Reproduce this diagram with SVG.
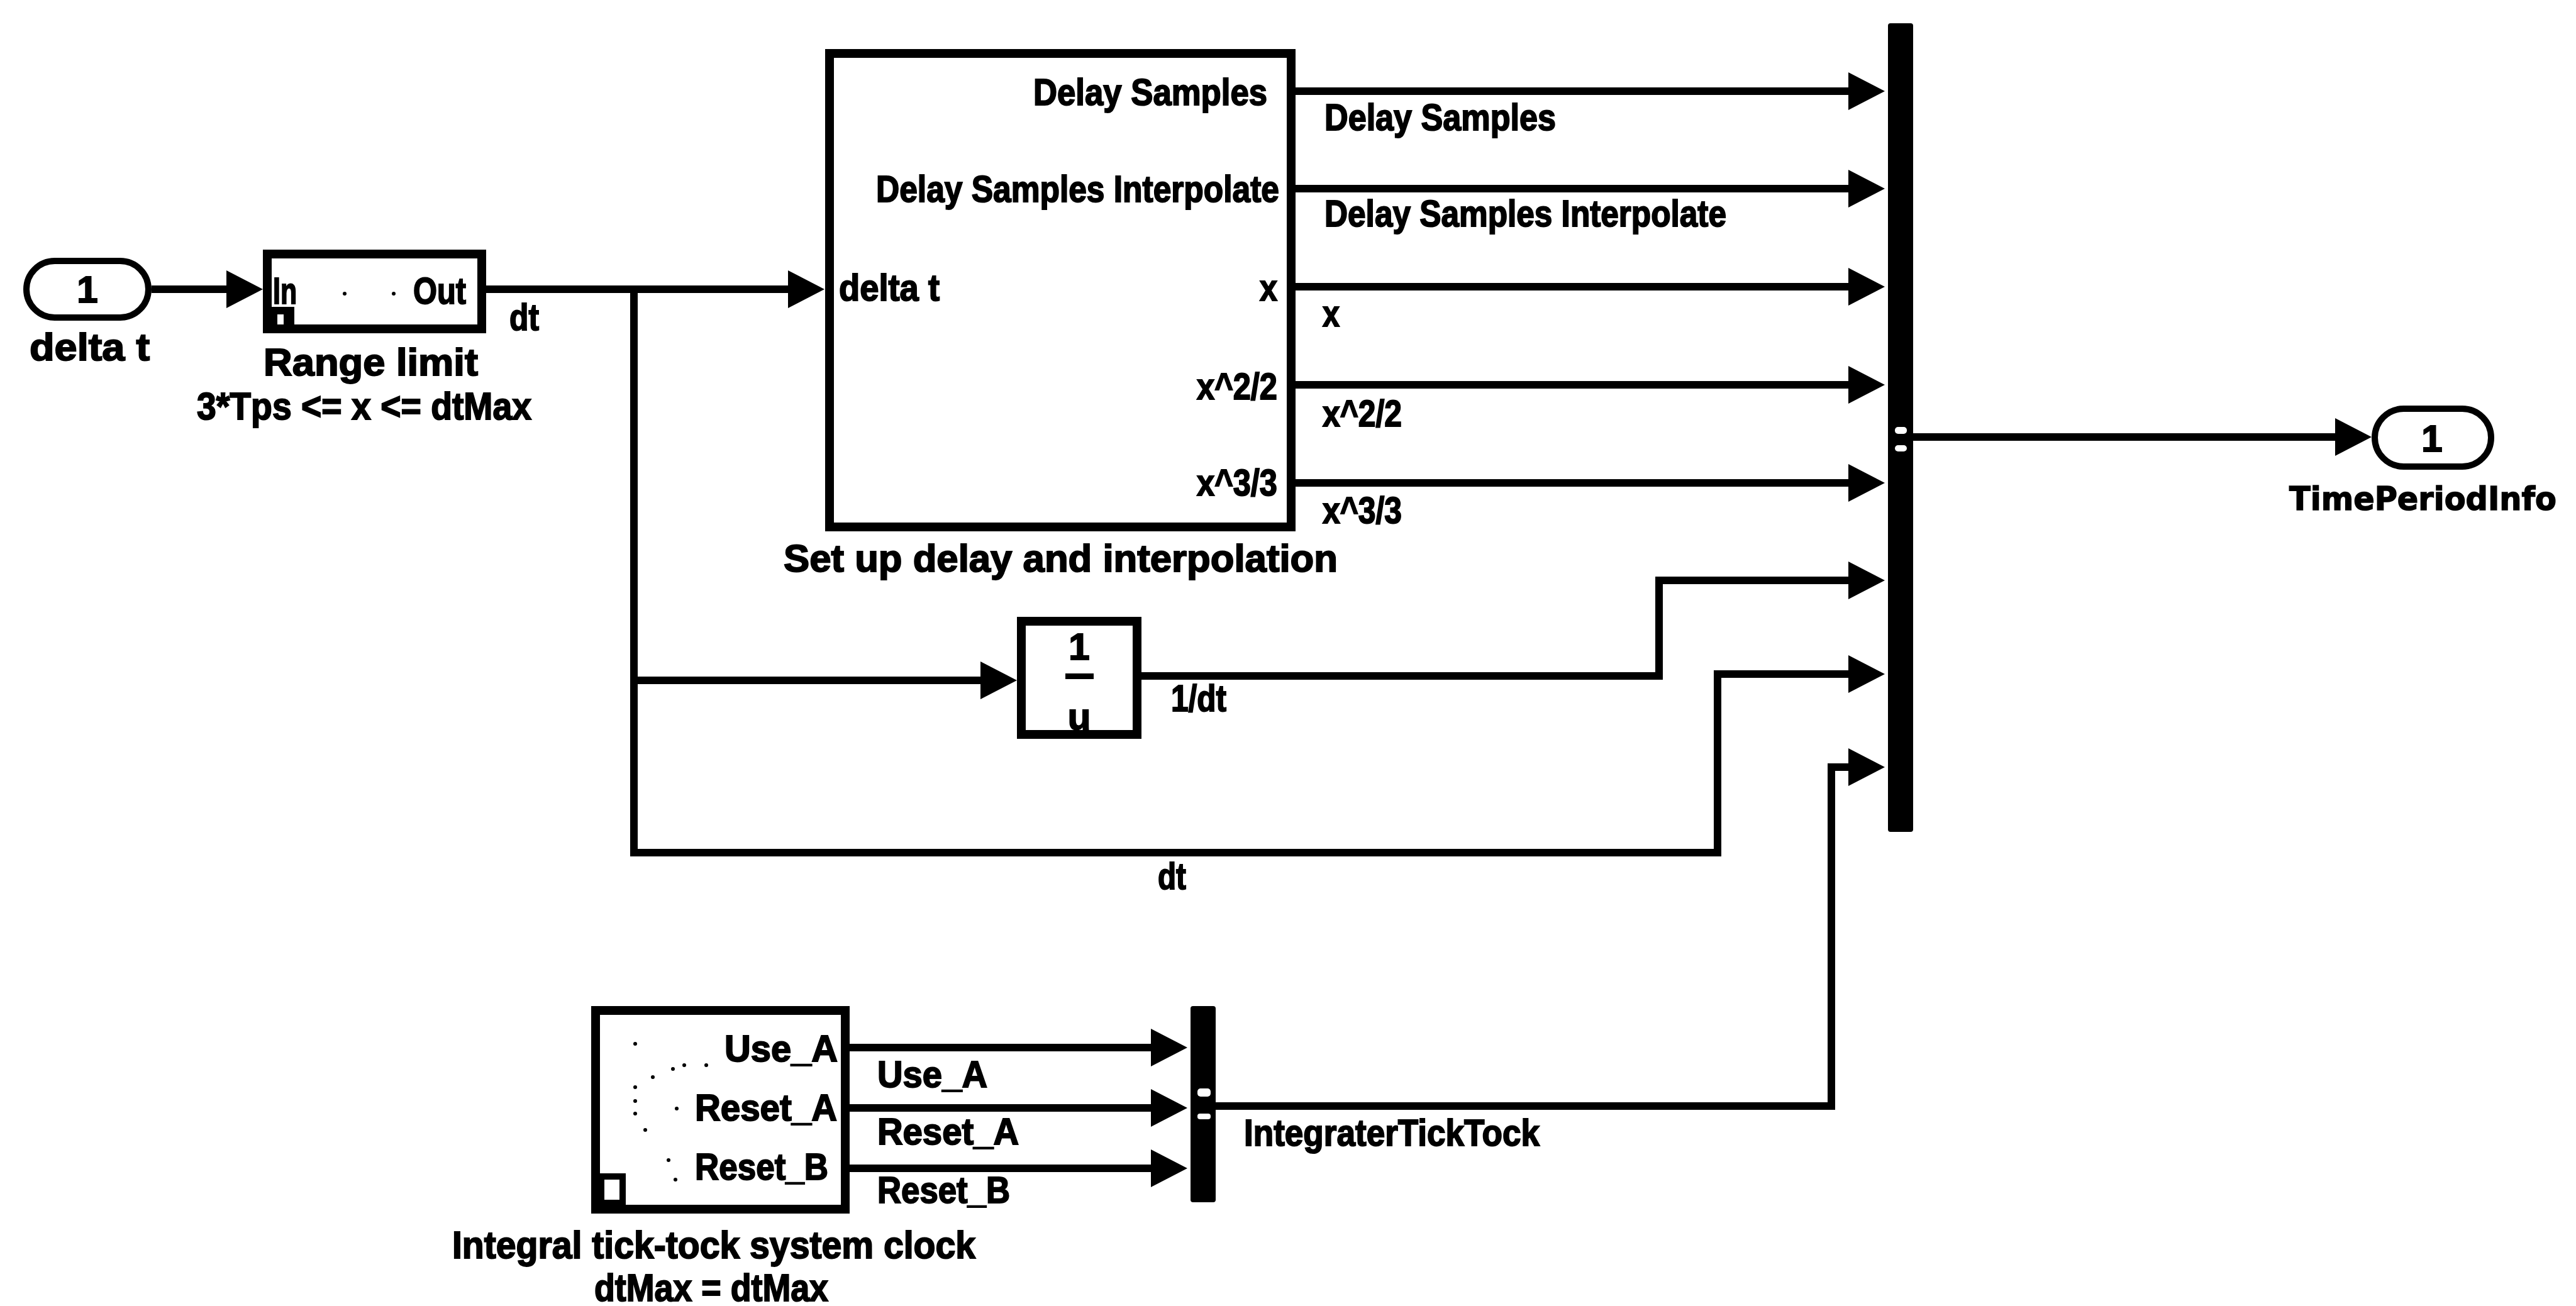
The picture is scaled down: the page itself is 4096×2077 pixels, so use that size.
<svg xmlns="http://www.w3.org/2000/svg" width="4096" height="2077" viewBox="0 0 4096 2077">
<defs>
<style>
.ln{fill:none;stroke:#000;stroke-width:12;stroke-linejoin:miter}
.blk{fill:#fff;stroke:#000;stroke-width:14}
.port{fill:#fff;stroke:#000;stroke-width:10}
.t{font-family:"Liberation Sans",Arial,sans-serif;font-weight:bold;font-size:60px;fill:#000;stroke:#000;stroke-width:2}
.lb{font-family:"Liberation Sans",Arial,sans-serif;font-weight:bold;font-size:62px;fill:#000;stroke:#000;stroke-width:2}
.r{text-anchor:end}
.m{text-anchor:middle}
.dot{fill:#000}
</style>
<marker id="ah" markerUnits="userSpaceOnUse" markerWidth="60" markerHeight="62" refX="0" refY="31" orient="auto" overflow="visible">
<path d="M0,1 L58,31 L0,61 Z" fill="#000"/>
</marker>
</defs>
<rect width="4096" height="2077" fill="#fff"/>

<g id="connectors">
<path class="ln" d="M241,460 H360" marker-end="url(#ah)"/>
<path class="ln" d="M773,460 H1253" marker-end="url(#ah)"/>
<path class="ln" d="M1008,460 V1356 H2731 V1072 H2939" marker-end="url(#ah)"/>
<path class="ln" d="M1008,1082 H1559" marker-end="url(#ah)"/>
<path class="ln" d="M1815,1075 H2638 V923 H2939" marker-end="url(#ah)"/>
<path class="ln" d="M2060,145 H2939" marker-end="url(#ah)"/>
<path class="ln" d="M2060,300 H2939" marker-end="url(#ah)"/>
<path class="ln" d="M2060,456 H2939" marker-end="url(#ah)"/>
<path class="ln" d="M2060,612 H2939" marker-end="url(#ah)"/>
<path class="ln" d="M2060,768 H2939" marker-end="url(#ah)"/>
<path class="ln" d="M1351,1666 H1830" marker-end="url(#ah)"/>
<path class="ln" d="M1351,1762 H1830" marker-end="url(#ah)"/>
<path class="ln" d="M1351,1858 H1830" marker-end="url(#ah)"/>
<path class="ln" d="M1933,1759 H2912 V1220 H2939" marker-end="url(#ah)"/>
<path class="ln" d="M3042,695 H3713" marker-end="url(#ah)"/>
<text class="t" x="810" y="525" textLength="47" lengthAdjust="spacingAndGlyphs">dt</text>
<text class="t" x="2106" y="207" textLength="368" lengthAdjust="spacingAndGlyphs">Delay Samples</text>
<text class="t" x="2106" y="360" textLength="639" lengthAdjust="spacingAndGlyphs">Delay Samples Interpolate</text>
<text class="t" x="2103" y="519" textLength="27" lengthAdjust="spacingAndGlyphs">x</text>
<text class="t" x="2103" y="678" textLength="126" lengthAdjust="spacingAndGlyphs">x^2/2</text>
<text class="t" x="2103" y="832" textLength="126" lengthAdjust="spacingAndGlyphs">x^3/3</text>
<text class="t" x="1862" y="1131" textLength="88" lengthAdjust="spacingAndGlyphs">1/dt</text>
<text class="t" x="1841" y="1414" textLength="45" lengthAdjust="spacingAndGlyphs">dt</text>
<text class="t" x="1395" y="1729" textLength="175" lengthAdjust="spacingAndGlyphs">Use_A</text>
<text class="t" x="1395" y="1820" textLength="225" lengthAdjust="spacingAndGlyphs">Reset_A</text>
<text class="t" x="1395" y="1913" textLength="211" lengthAdjust="spacingAndGlyphs">Reset_B</text>
<text class="t" x="1978" y="1822" textLength="470" lengthAdjust="spacingAndGlyphs">IntegraterTickTock</text>
</g>

<g id="inport-delta-t">
<rect class="port" x="42" y="415" width="194" height="90" rx="45"/>
<text class="t m" x="139" y="481">1</text>
<text class="lb" x="47" y="573" textLength="191" lengthAdjust="spacingAndGlyphs">delta t</text>
</g>

<g id="range-limit">
<rect class="blk" x="425" y="404" width="341" height="119"/>
<text class="t" x="434" y="483" textLength="38" lengthAdjust="spacingAndGlyphs">In</text>
<text class="t r" x="741" y="483" textLength="84" lengthAdjust="spacingAndGlyphs">Out</text>
<rect x="432" y="488" width="36" height="34" fill="#000"/>
<rect x="441" y="500" width="10" height="16" fill="#fff"/>
<circle class="dot" cx="548" cy="467" r="3"/>
<circle class="dot" cx="626" cy="467" r="3"/>
<text class="lb" x="419" y="597" textLength="341" lengthAdjust="spacingAndGlyphs">Range limit</text>
<text class="lb" x="313" y="667" textLength="532" lengthAdjust="spacingAndGlyphs">3*Tps &lt;= x &lt;= dtMax</text>
</g>

<g id="setup-delay">
<rect class="blk" x="1319" y="85" width="734" height="753"/>
<text class="t r" x="2015" y="167" textLength="372" lengthAdjust="spacingAndGlyphs">Delay Samples</text>
<text class="t r" x="2034" y="321" textLength="641" lengthAdjust="spacingAndGlyphs">Delay Samples Interpolate</text>
<text class="t" x="1334" y="478" textLength="160" lengthAdjust="spacingAndGlyphs">delta t</text>
<text class="t r" x="2031" y="478" textLength="28" lengthAdjust="spacingAndGlyphs">x</text>
<text class="t r" x="2031" y="635" textLength="128" lengthAdjust="spacingAndGlyphs">x^2/2</text>
<text class="t r" x="2031" y="788" textLength="128" lengthAdjust="spacingAndGlyphs">x^3/3</text>
<text class="lb" x="1246" y="909" textLength="881" lengthAdjust="spacingAndGlyphs">Set up delay and interpolation</text>
</g>

<g id="reciprocal">
<rect class="blk" x="1624" y="988" width="184" height="180"/>
<text class="t m" x="1716" y="1049">1</text>
<rect x="1694" y="1071" width="45" height="9" fill="#000"/>
<text class="t m" x="1716" y="1160">u</text>
</g>

<g id="tick-tock-clock">
<rect class="blk" x="947" y="1607" width="397" height="316"/>
<text class="t r" x="1332" y="1688" textLength="180" lengthAdjust="spacingAndGlyphs">Use_A</text>
<text class="t r" x="1331" y="1782" textLength="226" lengthAdjust="spacingAndGlyphs">Reset_A</text>
<text class="t r" x="1317" y="1876" textLength="212" lengthAdjust="spacingAndGlyphs">Reset_B</text>
<rect x="951" y="1866" width="44" height="52" fill="#000"/>
<rect x="961" y="1876" width="24" height="32" fill="#fff"/>
<g class="dot">
<circle cx="1010" cy="1660" r="3"/><circle cx="1038" cy="1713" r="3"/><circle cx="1070" cy="1700" r="3"/>
<circle cx="1088" cy="1694" r="3"/><circle cx="1123" cy="1694" r="3"/><circle cx="1010" cy="1729" r="3"/>
<circle cx="1010" cy="1751" r="3"/><circle cx="1010" cy="1771" r="3"/><circle cx="1076" cy="1763" r="3"/>
<circle cx="1026" cy="1797" r="3"/><circle cx="1063" cy="1845" r="3"/><circle cx="1074" cy="1876" r="3"/>
</g>
<text class="lb" x="719" y="2001" textLength="832" lengthAdjust="spacingAndGlyphs">Integral tick-tock system clock</text>
<text class="lb" x="945" y="2069" textLength="372" lengthAdjust="spacingAndGlyphs">dtMax = dtMax</text>
</g>

<g id="mux-tick">
<rect x="1893" y="1600" width="40" height="312" rx="4" fill="#000"/>
<rect x="1904" y="1731" width="21" height="13" rx="5" fill="#fff"/>
<rect x="1904" y="1771" width="21" height="9" rx="4" fill="#fff"/>
</g>

<g id="mux-main">
<rect x="3002" y="37" width="40" height="1286" rx="4" fill="#000"/>
<rect x="3013" y="679" width="19" height="11" rx="5" fill="#fff"/>
<rect x="3013" y="708" width="19" height="10" rx="5" fill="#fff"/>
</g>

<g id="outport-time-period-info">
<rect class="port" x="3776" y="650" width="185" height="92" rx="46"/>
<text class="t m" x="3867" y="718">1</text>
<text x="3640" y="811" font-family="'DejaVu Sans',sans-serif" font-weight="bold" font-size="52" stroke="#000" stroke-width="1.5" textLength="425" lengthAdjust="spacingAndGlyphs">TimePeriodInfo</text>
</g>
</svg>
